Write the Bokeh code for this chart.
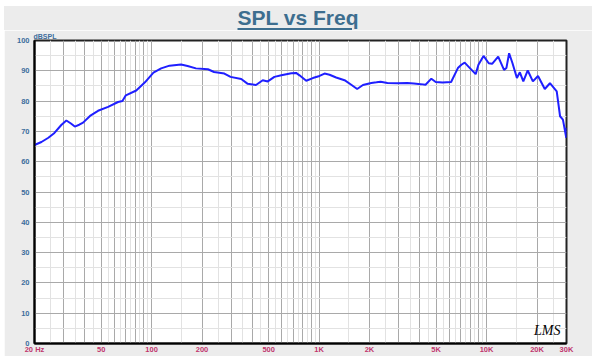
from bokeh.plotting import figure
from bokeh.models import FixedTicker, Label, Range1d, Title, Div
from bokeh.layouts import column
from bokeh.embed import file_html
from bokeh.resources import INLINE

freq = [20, 22, 24.2, 26.3, 29, 31, 33, 34.8, 37, 39, 42.9, 47.9, 55, 63.1, 67, 70.2, 81, 91.3,
        102.6, 114, 128, 150, 164, 184, 217, 236, 272, 296, 343, 375, 420, 461, 494, 541, 595,
        683, 729, 764, 838, 918, 1006, 1078, 1155, 1264, 1419, 1556, 1688, 1828, 2050, 2200,
        2330, 2560, 2930, 3360, 3680, 4040, 4320, 4680, 4970, 5460, 6140, 6740, 7070, 7400,
        7950, 8610, 8940, 9590, 10300, 10790, 11730, 12710, 13130, 13630, 14280, 15170, 15800,
        16570, 17610, 18900, 20280, 22260, 23890, 26230, 27460, 28560, 29900, 30000]
spl = [65.5, 66.5, 67.9, 69.5, 72.2, 73.6, 72.6, 71.6, 72.2, 72.9, 75.1, 76.8, 78.1, 79.7, 80.0,
       81.9, 83.5, 86.2, 89.4, 90.8, 91.7, 92.1, 91.6, 90.8, 90.5, 89.6, 89.1, 88.0, 87.3, 85.7,
       85.3, 86.9, 86.5, 88.0, 88.5, 89.2, 89.3, 88.5, 86.7, 87.6, 88.3, 89.1, 88.7, 87.8, 86.9,
       85.4, 84.0, 85.3, 86.0, 86.2, 86.4, 86.0, 85.9, 86.0, 85.8, 85.6, 85.4, 87.4, 86.3, 86.1,
       86.3, 90.9, 92.0, 92.7, 90.9, 88.9, 92.0, 94.9, 92.5, 92.3, 94.7, 90.3, 90.9, 95.8, 92.5,
       87.6, 89.5, 86.5, 90.1, 86.5, 88.3, 84.0, 85.9, 83.2, 75.0, 73.9, 67.9, 71.2]

x_ticks = [20, 30, 40, 50, 60, 70, 80, 90, 100, 200, 300, 400, 500, 600, 700, 800, 900,
           1000, 2000, 3000, 4000, 5000, 6000, 7000, 8000, 9000, 10000, 20000, 30000]
x_minor = [25, 35, 45, 55, 65, 75, 85, 95, 150, 250, 350, 450, 550, 650, 750, 850, 950,
           1500, 2500, 3500, 4500, 5500, 6500, 7500, 8500, 9500, 15000, 25000]
x_labels = {20: "20 Hz", 50: "50", 100: "100", 200: "200", 500: "500", 1000: "1K",
            2000: "2K", 5000: "5K", 10000: "10K", 20000: "20K", 30000: "30K"}
y_ticks = [0, 10, 20, 30, 40, 50, 60, 70, 80, 90, 100]
y_minor = [5, 15, 25, 35, 45, 55, 65, 75, 85, 95]

GRAY = "#ececec"
W = 588
DIV_H = 24
H = 326
BT, BB, BL, BR = 9, 10, 30, 26

title_html = ('<div style="width:%dpx;text-align:center;font-family:\'Liberation Sans\',Arial,sans-serif;'
              'font-weight:bold;font-size:21px;line-height:24px;color:#3d6e8f;'
              'text-decoration:underline;text-decoration-thickness:2px;'
              'text-underline-offset:3px;">SPL vs Freq</div>' % W)
div = Div(text=title_html, width=W, height=DIV_H, margin=(6, 0, 0, 4),
          styles={"background-color": GRAY})

p = figure(width=W, height=H, x_axis_type="log", output_backend="svg", toolbar_location=None,
           x_range=Range1d(20, 30000), y_range=Range1d(0, 100),
           min_border_left=BL, min_border_right=BR, min_border_top=BT, min_border_bottom=BB,
           margin=(0, 0, 0, 4))
p.border_fill_color = GRAY
p.background_fill_color = "white"
p.outline_line_color = "#222222"
p.outline_line_width = 2

p.add_layout(Title(text="dBSPL", align="left", offset=-1, standoff=1,
                   text_font="Liberation Sans", text_font_style="bold",
                   text_font_size="7px", text_color="#3d6d9c"), "above")

p.xaxis.ticker = FixedTicker(ticks=x_ticks, minor_ticks=x_minor)
p.xaxis.major_label_overrides = {t: x_labels.get(t, "") for t in x_ticks}
p.yaxis.ticker = FixedTicker(ticks=y_ticks, minor_ticks=y_minor)

for ax in (p.xaxis[0], p.yaxis[0]):
    ax.major_tick_line_color = None
    ax.minor_tick_line_color = None
    ax.major_tick_out = 0
    ax.minor_tick_out = 0
    ax.major_tick_in = 0
    ax.minor_tick_in = 0
    ax.axis_line_color = "black"
    ax.axis_line_width = 2
    ax.major_label_text_font = "Liberation Sans"
    ax.major_label_text_font_style = "bold"
    ax.major_label_text_font_size = "7.5px"
    ax.major_label_standoff = 1
p.xaxis.major_label_text_color = "#c0356c"
p.yaxis.major_label_text_color = "#3d6d9c"
p.yaxis.major_label_standoff = 5

p.xgrid.grid_line_color = "#a9a9a9"
p.xgrid.minor_grid_line_color = "#e2e2e2"
p.ygrid.grid_line_color = "#a9a9a9"
p.ygrid.minor_grid_line_color = "#e2e2e2"

p.line(freq, spl, line_color="#1f1fff", line_width=2)

p.add_layout(Label(x=526, y=6, x_units="screen", y_units="screen", text="LMS",
                   text_align="right", text_baseline="bottom", text_font="Liberation Serif",
                   text_font_style="italic", text_font_size="14px", text_color="black"))

layout = column(div, p, spacing=0)
open("out.html", "w").write(file_html(layout, INLINE))
